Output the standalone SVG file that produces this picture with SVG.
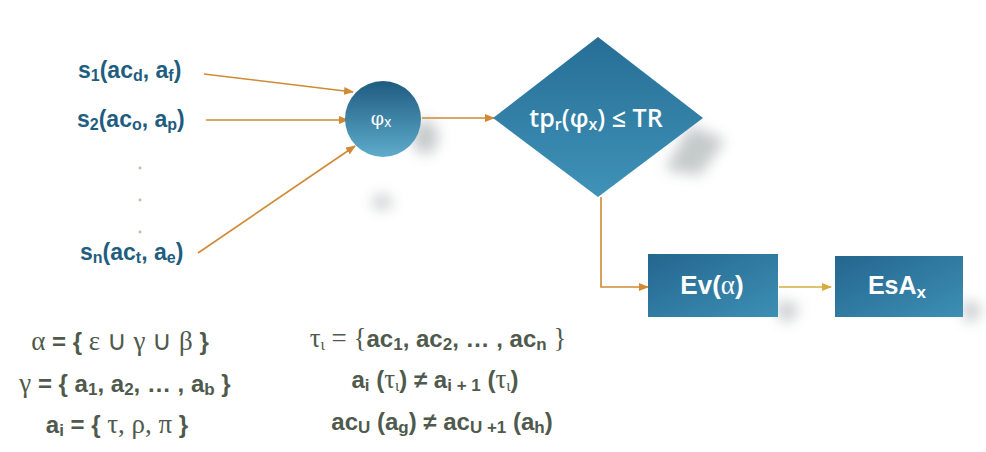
<svg xmlns="http://www.w3.org/2000/svg" width="986" height="452" viewBox="0 0 986 452">
<defs>
<style>
.lbl{font-family:"Liberation Sans",Arial,sans-serif;font-weight:bold;font-size:23px;fill:#1f5d80}
.f{font-family:"Liberation Sans",Arial,sans-serif;font-weight:bold;font-size:24px;fill:#4f5a4c}
.g{font-family:"Liberation Serif","Times New Roman",serif;font-weight:normal;font-size:27px}
.w{fill:#ffffff;font-family:"Liberation Sans",Arial,sans-serif;font-weight:bold}
.con{stroke:#cf8a33;stroke-width:1.6;fill:none}
.con2{stroke:#d6ad3c;stroke-width:1.6;fill:none}
</style>
<linearGradient id="gc" x1="0" y1="0" x2="0" y2="1">
<stop offset="0" stop-color="#1f5b80"/>
<stop offset="1" stop-color="#5eaccc"/>
</linearGradient>
<linearGradient id="gd" x1="0" y1="0" x2="0" y2="1">
<stop offset="0" stop-color="#276e96"/>
<stop offset="1" stop-color="#3f92b8"/>
</linearGradient>
<linearGradient id="gb" x1="0" y1="0" x2="1" y2="1">
<stop offset="0" stop-color="#24668e"/>
<stop offset="1" stop-color="#3d8fb4"/>
</linearGradient>
<filter id="blur" x="-50%" y="-50%" width="200%" height="200%">
<feGaussianBlur stdDeviation="7"/>
</filter>
<marker id="ah" markerWidth="10" markerHeight="8" refX="9" refY="4" orient="auto" markerUnits="userSpaceOnUse">
<path d="M0,0 L10,4 L0,8 Z" fill="#cf8a33"/>
</marker>
<marker id="ah2" markerWidth="10" markerHeight="8" refX="9" refY="4" orient="auto" markerUnits="userSpaceOnUse">
<path d="M0,0 L10,4 L0,8 Z" fill="#d6ad3c"/>
</marker>
</defs>
<rect width="986" height="452" fill="#ffffff"/>

<g id="shadows" filter="url(#blur)" fill="#7f8a8c" opacity="0.45">
<ellipse cx="425" cy="137" rx="13" ry="17"/>
<ellipse cx="382" cy="202" rx="10" ry="7"/>
<path d="M690,125 L725,140 L700,175 L665,170 Z"/>
<path d="M778,300 L800,306 L790,322 L778,318 Z"/>
<path d="M963,300 L982,306 L975,322 L963,318 Z"/>
</g>

<g id="dots" fill="#a8c4a8">
<circle cx="140" cy="168" r="1.4"/>
<circle cx="140" cy="200" r="1.4"/>
<circle cx="140" cy="232" r="1.4"/>
</g>

<g id="connectors">
<line class="con" x1="204" y1="74" x2="353" y2="92" marker-end="url(#ah)"/>
<line class="con" x1="206" y1="120" x2="348" y2="120" marker-end="url(#ah)"/>
<line class="con" x1="198" y1="253" x2="355" y2="146" marker-end="url(#ah)"/>
<line class="con" x1="422" y1="118" x2="494" y2="118" marker-end="url(#ah)"/>
<polyline class="con" points="601,197 601,287 648,287" marker-end="url(#ah)"/>
<line class="con2" x1="779" y1="287" x2="831" y2="287" marker-end="url(#ah2)"/>
</g>

<g id="s1"><text class="lbl" x="78" y="78">s<tspan font-size="16" dy="3">1</tspan><tspan dy="-3">(ac</tspan><tspan font-size="16" dy="3">d</tspan><tspan dy="-3">, a</tspan><tspan font-size="16" dy="3">f</tspan><tspan dy="-3">)</tspan></text></g>
<g id="s2"><text class="lbl" x="77" y="127">s<tspan font-size="16" dy="3">2</tspan><tspan dy="-3">(ac</tspan><tspan font-size="16" dy="3">o</tspan><tspan dy="-3">, a</tspan><tspan font-size="16" dy="3">p</tspan><tspan dy="-3">)</tspan></text></g>
<g id="sn"><text class="lbl" x="80" y="260">s<tspan font-size="16" dy="3">n</tspan><tspan dy="-3">(ac</tspan><tspan font-size="16" dy="3">t</tspan><tspan dy="-3">, a</tspan><tspan font-size="16" dy="3">e</tspan><tspan dy="-3">)</tspan></text></g>

<g id="phi">
<circle cx="383" cy="119" r="38" fill="url(#gc)"/>
<text x="381" y="125" text-anchor="middle" style="fill:#ffffff;font-family:'DejaVu Serif',serif;font-size:19px;font-weight:normal">φ<tspan style="font-family:'Liberation Sans',sans-serif;font-size:14px" dy="2">x</tspan></text>
</g>

<g id="decision">
<path d="M598,37 L703,118 L598,197 L493,118 Z" fill="url(#gd)"/>
<text x="596" y="127" text-anchor="middle" style="fill:#ffffff;font-family:'Open Sans',sans-serif;font-weight:600;font-size:25px">tp<tspan font-size="16" dy="3">r</tspan><tspan dy="-3">(φ</tspan><tspan font-size="16" dy="3">x</tspan><tspan dy="-3">) ≤ TR</tspan></text>
</g>

<g id="ev">
<rect x="648" y="254" width="130" height="63" fill="url(#gb)"/>
<text class="w" x="712" y="294" text-anchor="middle" font-size="26">Ev(<tspan style="font-family:'Liberation Serif',serif;font-weight:normal;font-size:27px">α</tspan>)</text>
</g>

<g id="esa">
<rect x="835" y="256" width="128" height="61" fill="url(#gb)"/>
<text class="w" x="897" y="294" text-anchor="middle" font-size="25">EsA<tspan font-size="17" dy="4">x</tspan></text>
</g>

<g id="formulas">
<text class="f" x="120" y="350" text-anchor="middle"><tspan class="g">α</tspan> = { <tspan class="g">ε ∪ γ ∪ β</tspan> }</text>
<text class="f" x="125" y="392" text-anchor="middle"><tspan class="g">γ</tspan> = { a<tspan font-size="17" dy="3">1</tspan><tspan dy="-3">, a</tspan><tspan font-size="17" dy="3">2</tspan><tspan dy="-3">, … , a</tspan><tspan font-size="17" dy="3">b</tspan><tspan dy="-3"> }</tspan></text>
<text class="f" x="117" y="433" text-anchor="middle">a<tspan font-size="17" dy="3">i</tspan><tspan dy="-3"> = { </tspan><tspan class="g">τ, ρ, π</tspan> }</text>
<text class="f" x="438" y="347" text-anchor="middle"><tspan class="g">τ</tspan><tspan class="g" style="font-size:16px" dy="3">ι</tspan><tspan class="g" dy="-3"> = {</tspan>ac<tspan font-size="17" dy="3">1</tspan><tspan dy="-3">, ac</tspan><tspan font-size="17" dy="3">2</tspan><tspan dy="-3">, … , ac</tspan><tspan font-size="17" dy="3">n</tspan><tspan dy="-3" class="g"> }</tspan></text>
<text class="f" x="435" y="388" text-anchor="middle">a<tspan font-size="17" dy="3">i</tspan><tspan dy="-3"> (</tspan><tspan class="g">τ</tspan><tspan class="g" style="font-size:16px" dy="3">ι</tspan><tspan dy="-3">) ≠ a</tspan><tspan font-size="17" dy="3">i + 1</tspan><tspan dy="-3"> (</tspan><tspan class="g">τ</tspan><tspan class="g" style="font-size:16px" dy="3">ι</tspan><tspan dy="-3">)</tspan></text>
<text class="f" x="442" y="430" text-anchor="middle">ac<tspan font-size="17" dy="3">U</tspan><tspan dy="-3"> (a</tspan><tspan font-size="17" dy="3">g</tspan><tspan dy="-3">) ≠ ac</tspan><tspan font-size="17" dy="3">U +1</tspan><tspan dy="-3"> (a</tspan><tspan font-size="17" dy="3">h</tspan><tspan dy="-3">)</tspan></text>
</g>
</svg>
